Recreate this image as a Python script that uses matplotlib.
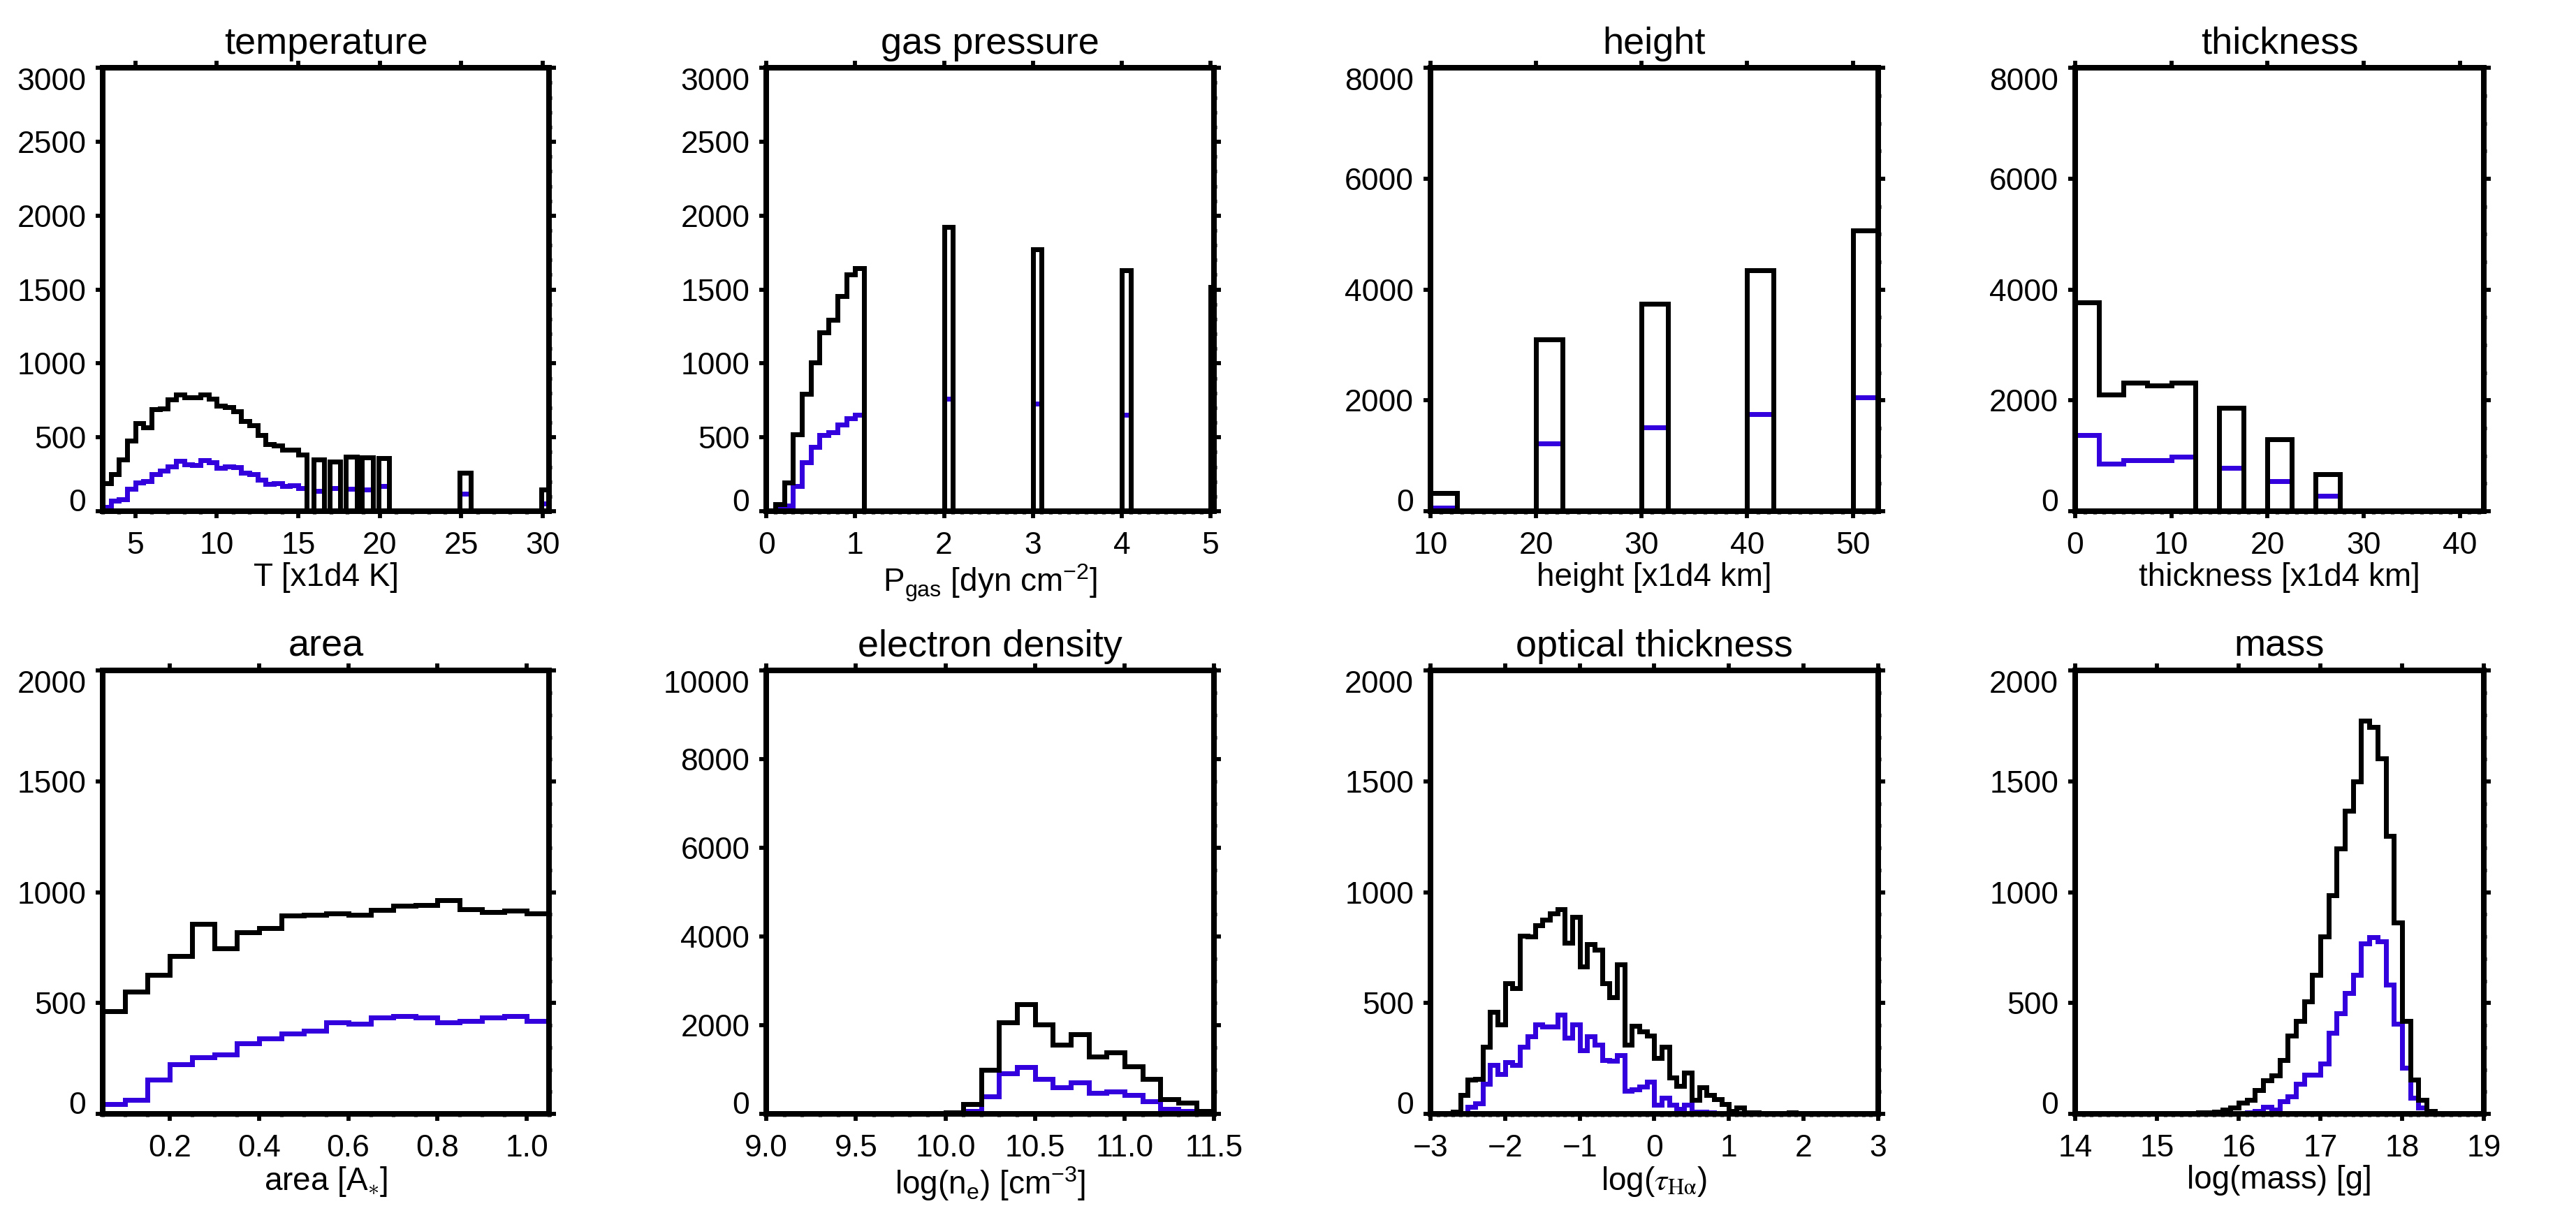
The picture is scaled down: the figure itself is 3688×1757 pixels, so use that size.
import numpy as np
import matplotlib
matplotlib.use("Agg")
import matplotlib.pyplot as plt
from matplotlib.ticker import MultipleLocator

plt.rcParams["font.family"] = ["Liberation Sans", "DejaVu Sans"]
plt.rcParams["mathtext.fontset"] = "custom"
plt.rcParams["mathtext.rm"] = "Liberation Sans"
plt.rcParams["mathtext.it"] = "Liberation Sans:italic"
plt.rcParams["mathtext.bf"] = "Liberation Sans:bold"
# the original is a crisp, non-antialiased raster
plt.rcParams["lines.antialiased"] = False
plt.rcParams["patch.antialiased"] = False

BLACK = "#000000"
BLUE = "#3300dd"

# ---- data (counts per bin) -------------------------------------------------
# temperature: irregular bins, zeros are gaps
TEMP_EDGES = [3.0, 3.5, 4.0, 4.5, 5.0, 5.5, 6.0, 6.5, 7.0, 7.5, 8.0, 8.5, 9.0,
              9.5, 10.0, 10.5, 11.0, 11.5, 12.0, 12.5, 13.0, 13.5, 14.0, 14.5,
              15.0, 15.5, 15.92, 16.58, 16.92, 17.58, 17.92, 18.58, 18.92,
              19.58, 19.92, 20.58, 24.92, 25.58, 29.92, 30.58]
TEMP_ALL = [190, 251, 349, 476, 595, 569, 688, 696, 754, 791, 770, 770, 791,
            759, 714, 704, 675, 611, 582, 516, 455, 442, 415, 415, 384,
            0, 349, 0, 336, 0, 368, 0, 362, 0, 357, 0, 262, 0, 145]
TEMP_SEL = [26, 71, 82, 151, 193, 204, 251, 272, 304, 341, 315, 310, 347,
            331, 291, 304, 299, 262, 249, 214, 183, 188, 172, 177, 156,
            0, 138, 0, 156, 0, 151, 0, 146, 0, 169, 0, 116, 0, 53]

PGAS_EDGES = [0.1, 0.2, 0.3, 0.4, 0.5, 0.6, 0.7, 0.8, 0.9, 1.0, 1.1,
              2.0, 2.1, 3.0, 3.1, 4.0, 4.1, 5.0, 5.1]
PGAS_ALL = [45, 196, 521, 794, 1005, 1212, 1296, 1455, 1603, 1643,
            0, 1923, 0, 1772, 0, 1630, 0, 1519]
PGAS_SEL = [18, 37, 169, 333, 434, 513, 534, 587, 627, 653,
            0, 759, 0, 728, 0, 653, 0, 622]

HEIGHT_EDGES = [10, 12.5, 20, 22.5, 30, 32.5, 40, 42.5, 50, 52.5]
HEIGHT_ALL = [331, 0, 3096, 0, 3738, 0, 4344, 0, 5070]
HEIGHT_SEL = [63, 0, 1227, 0, 1516, 0, 1756, 0, 2059]

THICK_EDGES = [0, 2.5, 5, 7.5, 10, 12.5, 15, 17.5, 20, 22.5, 25, 27.5]
THICK_ALL = [3766, 2109, 2320, 2271, 2320, 0, 1862, 0, 1298, 0, 663]
THICK_SEL = [1375, 860, 917, 917, 987, 0, 776, 0, 543, 0, 275]

# regular bins: (first edge, bin width)
AREA_BINS = (0.05, 0.05)
AREA_ALL = [464, 552, 627, 712, 857, 747, 818, 839, 896, 899,
            906, 899, 920, 938, 942, 965, 924, 910, 917, 903]
AREA_SEL = [44, 64, 156, 223, 255, 269, 317, 340, 361, 375,
            414, 405, 435, 441, 434, 414, 418, 435, 442, 418]

NE_BINS_ALL = (9.9, 0.1)
NE_ALL = [15, 36, 213, 995, 2062, 2471, 2018, 1564, 1796, 1289, 1387,
          1067, 782, 338, 249, 62]
NE_BINS_SEL = (10.0, 0.1)
NE_SEL = [5, 62, 400, 907, 1049, 782, 604, 711, 471, 498, 418, 284,
          116, 62, 10]

TAU_BINS_ALL = (-2.7, 0.1)
TAU_ALL = [10, 85, 154, 159, 304, 460, 403, 589, 566, 805, 800, 850, 876,
           903, 924, 773, 890, 664, 765, 740, 588, 526, 676, 313, 398, 372,
           354, 251, 301, 165, 127, 186, 62, 119, 85, 67, 44, 14, 27, 5, 5,
           3, 1, 1, 1, 5]
TAU_BINS_SEL = (-2.5, 0.1)
TAU_SEL = [30, 48, 136, 221, 181, 234, 221, 304, 350, 403, 395, 395, 446,
           342, 402, 287, 349, 313, 244, 239, 265, 103, 110, 124, 145, 41,
           71, 41, 21, 41, 9, 9, 5]

MASS_BINS_ALL = (15.2, 0.1)
MASS_ALL = [3, 3, 2, 5, 5, 9, 18, 27, 50, 62, 106, 150, 173, 242, 354, 419,
            508, 628, 800, 986, 1198, 1368, 1499, 1773, 1747, 1605, 1253,
            864, 419, 154, 62, 12]
MASS_BINS_SEL = (16.1, 0.1)
MASS_SEL = [5, 14, 32, 18, 57, 80, 136, 177, 177, 227, 366, 455, 545, 628,
            770, 796, 779, 584, 407, 207, 71, 27, 3]


def regular_edges(bins, counts):
    lo, w = bins
    return lo + w * np.arange(len(counts) + 1)


def panel(ax, title, xlabel, xlim, xmaj, xmin, ymax, ymaj, ymin,
          edges_all, all_counts, edges_sel, sel_counts, math_font=None):
    ax.stairs(sel_counts, edges_sel, baseline=0, color=BLUE, lw=2.4, zorder=2)
    ax.stairs(all_counts, edges_all, baseline=0, color=BLACK, lw=2.4, zorder=3)

    ax.set_xlim(*xlim)
    ax.set_ylim(0, ymax)
    ax.xaxis.set_major_locator(MultipleLocator(xmaj))
    ax.xaxis.set_minor_locator(MultipleLocator(xmin))
    ax.set_yticks(np.arange(0, ymax + 1, ymaj))
    ax.yaxis.set_minor_locator(MultipleLocator(ymin))

    ax.tick_params(which="both", direction="out", top=True, right=True,
                   labelsize=16)
    ax.tick_params(which="major", length=3.6, width=2.1)
    ax.tick_params(which="minor", length=1.5, width=1.9)
    ax.tick_params(axis="x", which="major", pad=7)
    ax.tick_params(axis="y", which="major", pad=5)
    for s in ax.spines.values():
        s.set_linewidth(2.2)

    # IDL-style: bottom label sits on the axis, top label hangs from it
    ylabels = ax.get_yticklabels()
    ylabels[0].set_va("baseline")
    ylabels[-1].set_va("top")

    ax.set_title(title, fontsize=19.5, pad=7.5)
    lab = ax.set_xlabel(xlabel, fontsize=16.5, labelpad=1)
    if math_font:
        lab.set_math_fontfamily(math_font)


fig = plt.figure(figsize=(18.44, 8.785), dpi=200)

lefts = [0.0399, 0.2975, 0.5553, 0.8056]
widths = [0.1733, 0.1738, 0.1738, 0.1586]
bottoms = [0.5834, 0.0922]
height = 0.3612

axes = [[fig.add_axes([lefts[c], bottoms[r], widths[c], height])
         for c in range(4)] for r in range(2)]

panel(axes[0][0], "temperature", "T [x1d4 K]", (3.0, 30.4), 5, 1,
      3000, 500, 100, TEMP_EDGES, TEMP_ALL, TEMP_EDGES, TEMP_SEL)
panel(axes[0][1], "gas pressure", r"P$_{\rm gas}$ [dyn cm$^{-2}$]",
      (0, 5.04), 1, 0.1, 3000, 500, 100,
      PGAS_EDGES, PGAS_ALL, PGAS_EDGES, PGAS_SEL)
panel(axes[0][2], "height", "height [x1d4 km]", (10, 52.4), 10, 1,
      8000, 2000, 500, HEIGHT_EDGES, HEIGHT_ALL, HEIGHT_EDGES, HEIGHT_SEL)
panel(axes[0][3], "thickness", "thickness [x1d4 km]", (0, 42.5), 10, 1,
      8000, 2000, 500, THICK_EDGES, THICK_ALL, THICK_EDGES, THICK_SEL)

panel(axes[1][0], "area", r"area [A$_{\ast}$]", (0.05, 1.05), 0.2, 0.05,
      2000, 500, 100,
      regular_edges(AREA_BINS, AREA_ALL), AREA_ALL,
      regular_edges(AREA_BINS, AREA_SEL), AREA_SEL)
panel(axes[1][1], "electron density", r"log(n$_{\rm e}$) [cm$^{-3}$]",
      (9.0, 11.5), 0.5, 0.1, 10000, 2000, 500,
      regular_edges(NE_BINS_ALL, NE_ALL), NE_ALL,
      regular_edges(NE_BINS_SEL, NE_SEL), NE_SEL)
panel(axes[1][2], "optical thickness", r"log($\tau_{\rm H\alpha}$)",
      (-3, 3), 1, 0.1, 2000, 500, 100,
      regular_edges(TAU_BINS_ALL, TAU_ALL), TAU_ALL,
      regular_edges(TAU_BINS_SEL, TAU_SEL), TAU_SEL, math_font="stix")
panel(axes[1][3], "mass", "log(mass) [g]", (14, 19), 1, 0.1,
      2000, 500, 100,
      regular_edges(MASS_BINS_ALL, MASS_ALL), MASS_ALL,
      regular_edges(MASS_BINS_SEL, MASS_SEL), MASS_SEL)

fig.savefig("out.png", dpi=200)
